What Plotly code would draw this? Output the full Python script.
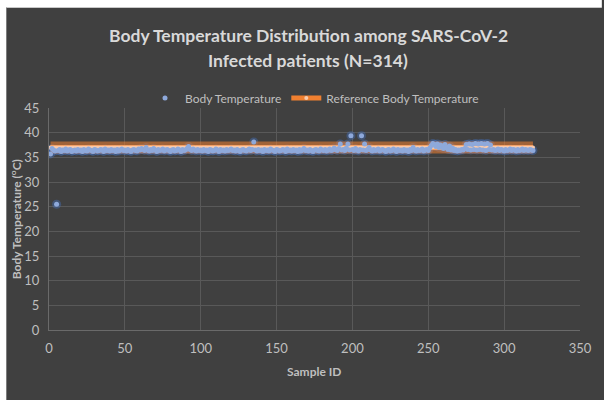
import plotly.graph_objects as go

# ---------------- data ----------------
body_temp = [
    35.7, 36.8, 36.5, 36.3, 25.5, 36.4, 36.6, 36.2, 36.5, 36.4, 36.7, 36.3, 36.5, 36.6, 36.2, 36.4, 36.5, 36.3, 36.6, 36.4,
    36.5, 36.2, 36.6, 36.4, 36.3, 36.7, 36.5, 36.4, 36.2, 36.6, 36.5, 36.3, 36.4, 36.6, 36.5, 36.2, 36.7, 36.4, 36.5, 36.3,
    36.6, 36.4, 36.5, 36.2, 36.6, 36.3, 36.5, 36.7, 36.4, 36.5, 36.3, 36.6, 36.4, 36.2, 36.5, 36.6, 36.4, 36.3, 36.7, 36.5,
    36.8, 36.6, 36.4, 37.0, 36.5, 36.3, 36.6, 36.4, 36.8, 36.5, 36.2, 36.6, 36.4, 36.5, 36.7, 36.3, 36.5, 36.6, 36.4, 36.2,
    36.5, 36.6, 36.3, 36.4, 36.7, 36.5, 36.2, 36.6, 36.4, 36.5, 36.8, 37.2, 36.6, 36.4, 36.7, 36.5, 36.3, 36.6, 36.4, 36.5,
    36.3, 36.6, 36.4, 36.5, 36.2, 36.6, 36.5, 36.3, 36.4, 36.7, 36.5, 36.2, 36.6, 36.4, 36.5, 36.3, 36.6, 36.4, 36.5, 36.7,
    36.4, 36.5, 36.3, 36.6, 36.4, 36.2, 36.5, 36.6, 36.4, 36.3, 36.5, 36.7, 36.4, 36.6, 38.1, 36.5, 36.3, 36.6, 36.4, 36.5,
    36.2, 36.6, 36.4, 36.5, 36.3, 36.7, 36.5, 36.4, 36.2, 36.6, 36.5, 36.3, 36.4, 36.6, 36.5, 36.2, 36.7, 36.4, 36.5, 36.3,
    36.6, 36.4, 36.5, 36.2, 36.6, 36.3, 36.5, 36.8, 36.4, 36.5, 36.3, 36.6, 36.4, 36.2, 36.5, 36.6, 36.4, 36.3, 36.7, 36.5,
    36.4, 36.6, 36.3, 36.5, 36.7, 36.4, 36.5, 36.9, 36.6, 36.4, 36.8, 37.7, 36.5, 36.6, 36.4, 36.9, 37.7, 36.5, 39.4, 36.6,
    36.4, 36.8, 36.5, 36.3, 36.6, 39.4, 36.5, 37.7, 36.4, 36.6, 37.0, 36.5, 36.3, 36.6, 36.4, 36.5, 36.7, 36.3, 36.5, 36.6,
    36.4, 36.2, 36.5, 36.6, 36.3, 36.4, 36.7, 36.5, 36.2, 36.6, 36.4, 36.5, 36.3, 36.6, 36.4, 36.5, 36.2, 36.6, 36.4, 37.0,
    36.5, 36.3, 36.6, 36.4, 36.5, 36.7, 36.3, 36.5, 36.6, 36.4, 36.9, 37.4, 37.8, 37.6, 37.2, 37.7, 37.0, 37.5, 37.3, 36.8,
    37.6, 37.0, 36.6, 37.3, 36.5, 36.9, 36.4, 36.6, 36.3, 36.5, 36.4, 36.6, 36.5, 36.8, 37.6, 36.6, 37.7, 36.5, 37.6, 36.6,
    37.8, 36.5, 37.7, 36.6, 37.8, 36.5, 37.7, 36.4, 37.8, 36.6, 37.5, 36.5, 36.6, 36.4, 36.5, 36.7, 36.4, 36.6, 36.5, 36.3,
    36.6, 36.4, 36.5, 36.7, 36.4, 36.6, 36.5, 36.3, 36.6, 36.4, 36.5, 36.7, 36.4, 36.6, 36.5, 36.4, 36.6, 36.5, 36.4,
]
sample_ids = list(range(1, len(body_temp) + 1))
REFERENCE_TEMP = 37.0
reference_temp = [REFERENCE_TEMP] * len(sample_ids)

x_ticks = [0, 50, 100, 150, 200, 250, 300, 350]
y_ticks = [0, 5, 10, 15, 20, 25, 30, 35, 40, 45]

title_line1 = "Body Temperature Distribution among SARS-CoV-2"
title_line2 = "Infected patients (N=314)"
x_title = "Sample ID"
y_title = "Body Temperature (<sup>o</sup>C)"

# ---------------- style ----------------
BG = "#404040"
GRID = "#595959"
TXT = "#bfbfbf"
FONT = "Lato"

W, H = 604, 400
ML, MR, MT, MB = 49, 20, 108, 70
pw = W - ML - MR
ph = H - MT - MB


def px_x(page_x):
    return (page_x - ML) / pw


def px_y(page_y):
    return 1 - (page_y - MT) / ph


fig = go.Figure()

# blue glow
fig.add_trace(go.Scatter(
    x=sample_ids, y=body_temp, mode="markers",
    marker=dict(size=9, color="rgba(68,114,196,0.40)", line=dict(width=0)),
    showlegend=False, hoverinfo="skip"))
# orange glow
fig.add_trace(go.Scatter(
    x=sample_ids, y=reference_temp, mode="lines",
    line=dict(color="rgba(240,128,48,0.55)", width=12),
    showlegend=False, hoverinfo="skip"))
# orange reference line
fig.add_trace(go.Scatter(
    x=sample_ids, y=reference_temp, mode="lines+markers",
    name="Reference Body Temperature",
    line=dict(color="#F08030", width=5),
    marker=dict(size=4, color="#F8CBAD", line=dict(width=0)),
    legendrank=2))
# blue points
fig.add_trace(go.Scatter(
    x=sample_ids, y=body_temp, mode="markers",
    name="Body Temperature",
    marker=dict(size=5, color="#8EA9DB", line=dict(width=0)),
    legendrank=1))

# white frame strips at left and top
fig.add_shape(type="rect", xref="paper", yref="paper",
              x0=px_x(-2), x1=px_x(6), y0=px_y(H + 2), y1=px_y(-2),
              fillcolor="white", line=dict(width=0), layer="below")
fig.add_shape(type="rect", xref="paper", yref="paper",
              x0=px_x(-2), x1=px_x(W + 2), y0=px_y(7), y1=px_y(-2),
              fillcolor="white", line=dict(width=0), layer="below")
fig.add_shape(type="line", xref="paper", yref="paper",
              x0=px_x(6), x1=px_x(W + 2), y0=px_y(7.5), y1=px_y(7.5),
              line=dict(color="#c8c8c8", width=1), layer="below")

annotations = [
    dict(text="<b>" + title_line1 + "</b>", x=px_x(310), y=px_y(35), xref="paper", yref="paper",
         showarrow=False, xanchor="center", yanchor="middle",
         font=dict(family=FONT, size=17.5, color="#d9d9d9")),
    dict(text="<b>" + title_line2 + "</b>", x=px_x(310), y=px_y(61), xref="paper", yref="paper",
         showarrow=False, xanchor="center", yanchor="middle",
         font=dict(family=FONT, size=17.5, color="#d9d9d9")),
    dict(text="<b>" + x_title + "</b>", x=px_x(316), y=px_y(371), xref="paper", yref="paper",
         showarrow=False, xanchor="center", yanchor="middle",
         font=dict(family=FONT, size=12, color=TXT)),
    dict(text="<b>" + y_title + "</b>", x=px_x(16), y=px_y(219), xref="paper", yref="paper",
         showarrow=False, xanchor="center", yanchor="middle", textangle=-90,
         font=dict(family=FONT, size=12, color=TXT)),
]

fig.update_layout(
    width=W, height=H,
    margin=dict(l=ML, r=MR, t=MT, b=MB),
    paper_bgcolor=BG,
    plot_bgcolor="rgba(0,0,0,0)",
    font=dict(family=FONT, color=TXT, size=12),
    annotations=annotations,
    legend=dict(orientation="h", x=0.5, xanchor="center", y=px_y(98),
                yanchor="middle", font=dict(size=12, color=TXT),
                bgcolor="rgba(0,0,0,0)"),
    xaxis=dict(range=[0, 350], tickvals=x_ticks, showgrid=True, gridcolor=GRID,
               gridwidth=1, zeroline=False, showline=True, linecolor="#6a6a6a",
               ticks="", ticklabelstandoff=6, tickfont=dict(size=13, color=TXT)),
    yaxis=dict(range=[0, 45], tickvals=y_ticks, showgrid=True, gridcolor=GRID,
               gridwidth=1, zeroline=False, showline=True, linecolor="#6a6a6a",
               ticks="", ticklabelstandoff=6, tickfont=dict(size=13, color=TXT)),
)

post = (
    "document.documentElement.style.overflow='hidden';"
    "document.documentElement.style.background='%s';"
    "document.body.style.margin='0';document.body.style.overflow='hidden';"
    "document.body.style.background='%s';"
    "var _gd=document.getElementById('{plot_id}');"
    "var _sx=window.innerWidth/%d,_sy=window.innerHeight/%d;"
    "if(_sx>1||_sy>1){_gd.style.transformOrigin='0 0';"
    "_gd.style.transform='scale('+Math.max(_sx,1)+','+Math.max(_sy,1)+')';}"
) % (BG, BG, W, H)

fig.write_html(
    "out.html",
    config={"displayModeBar": False, "responsive": False},
    post_script=post,
)
